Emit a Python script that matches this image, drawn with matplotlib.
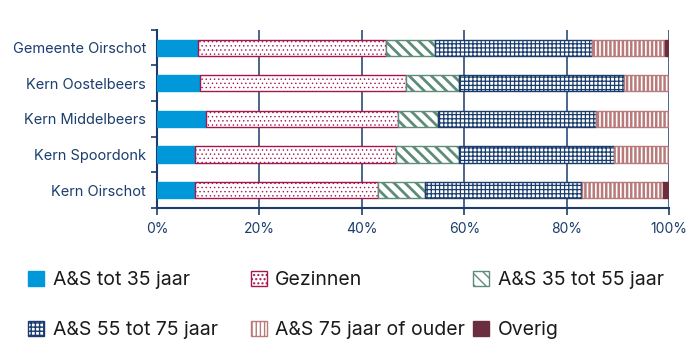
import numpy as np
import matplotlib as mpl
import matplotlib.pyplot as plt
from matplotlib.patches import Patch

plt.rcParams['font.family'] = ['Inter', 'DejaVu Sans']

# data (share in %)
kernen = ['Gemeente Oirschot', 'Kern Oostelbeers', 'Kern Middelbeers',
          'Kern Spoordonk', 'Kern Oirschot']
as_tot35 = [8.1, 8.3, 9.6, 7.4, 7.4]
gezinnen = [36.6, 40.3, 37.5, 39.3, 35.8]
as_35_55 = [9.5, 10.3, 7.8, 12.2, 9.1]
as_55_75 = [30.8, 32.3, 30.8, 30.4, 30.7]
as_75plus = [14.2, 8.8, 14.3, 10.7, 15.9]
overig = [0.8, 0.0, 0.0, 0.0, 1.1]

labels = ['A&S tot 35 jaar', 'Gezinnen', 'A&S 35 tot 55 jaar',
          'A&S 55 tot 75 jaar', 'A&S 75 jaar of ouder', 'Overig']
series = [as_tot35, gezinnen, as_35_55, as_55_75, as_75plus, overig]

navy = '#1b3d6d'
styles = [
    dict(color='#0098d8', edgecolor='#0098d8', hatch=None, hlw=1),
    dict(color='white', edgecolor='#a3174f', hatch='....', hlw=0.5),
    dict(color='white', edgecolor='#5f8c78', hatch='\\\\\\', hlw=2.0),
    dict(color='white', edgecolor=navy, hatch='++++', hlw=0.9),
    dict(color='white', edgecolor='#b87a7a', hatch='||||', hlw=1.8),
    dict(color='#6b2e40', edgecolor='#6b2e40', hatch=None, hlw=1),
]

fig = plt.figure(figsize=(6.96, 3.47), dpi=100)
ax = fig.add_axes([0.2256, 0.4006, 0.7356, 0.5138])

y = np.arange(len(kernen))[::-1]
left = np.zeros(len(kernen))
handles = []
for vals, st, lab in zip(series, styles, labels):
    vals = np.array(vals)
    with mpl.rc_context({'hatch.linewidth': st['hlw']}):
        ax.barh(y, vals, left=left, height=0.45, color=st['color'],
                edgecolor=st['edgecolor'], hatch=st['hatch'], linewidth=1,
                zorder=3)
        handles.append(Patch(facecolor=st['color'], edgecolor=st['edgecolor'],
                             hatch=st['hatch'], linewidth=1, label=lab))
    left += vals

ax.set_xlim(0, 100)
ax.set_ylim(-0.5, len(kernen) - 0.5)
ax.set_xticks([0, 20, 40, 60, 80, 100])
ax.set_xticklabels(['0%', '20%', '40%', '60%', '80%', '100%'])
ax.set_yticks(y)
ax.set_yticklabels(kernen)
ax.set_yticks(np.arange(-0.5, len(kernen)), minor=True)
ax.tick_params(axis='y', which='major', length=0, pad=8, labelsize=10.5,
               labelcolor=navy)
ax.tick_params(axis='y', which='minor', length=4, color=navy, width=1.2)
ax.tick_params(axis='x', length=5, color=navy, width=1.2, labelsize=10,
               labelcolor=navy, pad=5)
ax.grid(axis='x', color=navy, linewidth=1.1, zorder=0)
for s in ['top', 'right']:
    ax.spines[s].set_visible(False)
for s in ['left', 'bottom']:
    ax.spines[s].set_color(navy)
    ax.spines[s].set_linewidth(1.5)

# legend in three fixed columns
for i, x0 in enumerate([0.04, 0.36, 0.68]):
    fig.legend(handles=[handles[i], handles[i + 3]], loc='upper left',
               bbox_to_anchor=(x0, 0.22), frameon=False, fontsize=14,
               labelcolor='#1a1a1a',
               handlelength=0.82, handleheight=0.82, handletextpad=0.45,
               labelspacing=1.65, borderaxespad=0, borderpad=0)

fig.savefig('out.png', dpi=100)
